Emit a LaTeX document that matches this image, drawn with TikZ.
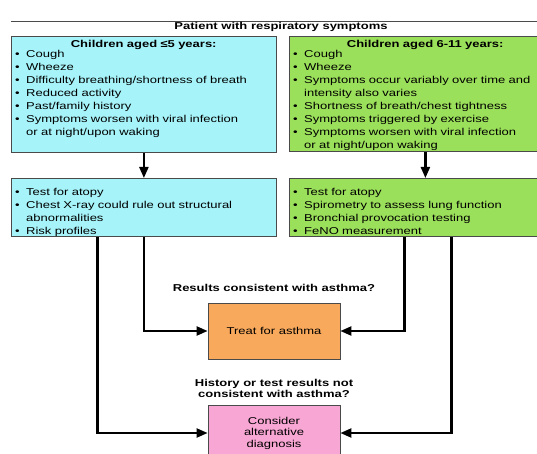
\documentclass[tikz,border=0pt]{standalone}
\usepackage{fontspec}
\setmainfont{Liberation Sans}[FakeStretch=1.3]
\usetikzlibrary{arrows.meta, positioning}
\definecolor{youngcyan}{HTML}{A6F4FA}
\definecolor{oldgreen}{HTML}{9BE05A}
\definecolor{treatorange}{HTML}{F9A95B}
\definecolor{altpink}{HTML}{F8A6D3}
\definecolor{framegray}{HTML}{4A4A4A}
\newcommand{\bitem}[1]{\par\hangindent=11pt\hangafter=1\noindent\makebox[11pt][l]{\textbullet}#1\par}
\newcommand{\boxhead}[1]{{\centering\bfseries #1\par}\vspace{-3pt}}

\begin{document}
\begin{tikzpicture}[
    x=1pt, y=-1pt,
    box/.style={draw=framegray, line width=0.8pt, inner sep=0pt, anchor=north west},
    listtext/.style={anchor=north west, inner sep=4pt, align=left, font=\fontsize{10}{13}\selectfont},
    process/.style={draw=framegray, line width=0.8pt, minimum width=132pt, minimum height=56pt, font=\fontsize{10}{11.5}\selectfont, align=center},
    question/.style={font=\bfseries\fontsize{10}{11}\selectfont, align=center, inner sep=0pt},
    flow/.style={line width=2.2pt, -{Triangle[length=11pt, width=9pt]}},
]
\useasboundingbox (0,0) rectangle (537,454);
\clip (0,0) rectangle (537,454);

% Title
\draw[framegray, line width=0.6pt] (11,21) -- (537,21);
\node[font=\bfseries\fontsize{10}{12}\selectfont] (title) at (281,27) {Patient with respiratory symptoms};

% Children up to 5 years (left)
\node[box, fill=youngcyan, minimum width=265pt, minimum height=116pt] (young) at (11,36) {};
\node[listtext, text width=257pt] (youngsym) at (young.north west) {%
    \boxhead{Children aged ≤5 years:}
    \bitem{Cough}
    \bitem{Wheeze}
    \bitem{Difficulty breathing/shortness of breath}
    \bitem{Reduced activity}
    \bitem{Past/family history}
    \bitem{Symptoms worsen with viral infection\newline or at night/upon waking}};

\node[box, fill=youngcyan, minimum width=265pt, minimum height=58pt] (youngtests) at (11,178) {};
\node[listtext, text width=257pt] (youngtxt) at (youngtests.north west) {%
    \bitem{Test for atopy}
    \bitem{Chest X-ray could rule out structural\newline abnormalities}
    \bitem{Risk profiles}};

% Children 6-11 years (right)
\node[box, fill=oldgreen, minimum width=272pt, minimum height=115pt] (old) at (289,36) {};
\node[listtext, text width=264pt] (oldsym) at (old.north west) {%
    \boxhead{Children aged 6-11 years:}
    \bitem{Cough}
    \bitem{Wheeze}
    \bitem{Symptoms occur variably over time and\newline intensity also varies}
    \bitem{Shortness of breath/chest tightness}
    \bitem{Symptoms triggered by exercise}
    \bitem{Symptoms worsen with viral infection\newline or at night/upon waking}};

\node[box, fill=oldgreen, minimum width=272pt, minimum height=58pt] (oldtests) at (289,178) {};
\node[listtext, text width=264pt] (oldtxt) at (oldtests.north west) {%
    \bitem{Test for atopy}
    \bitem{Spirometry to assess lung function}
    \bitem{Bronchial provocation testing}
    \bitem{FeNO measurement}};

% Outcomes
\node[process, fill=treatorange] (treat) at (274,331) {Treat for asthma};
\node[process, fill=altpink] (alt) at (274,433) {Consider\\alternative\\diagnosis};

\node[question, above=11pt of treat] (consistent) {Results consistent with asthma?};
\node[question, above=7pt of alt] (notconsistent) {History or test results not\\consistent with asthma?};

% Connectors
\draw[flow] (young) -- (youngtests);
\draw[flow] (old) -- (oldtests);
\draw[flow] (youngtests.south) |- (treat.west);
\draw[flow] ([xshift=-46.5pt]youngtests.south) |- (alt.west);
\draw[flow] ([xshift=-21pt]oldtests.south) |- (treat.east);
\draw[flow] ([xshift=26pt]oldtests.south) |- (alt.east);

\end{tikzpicture}
\end{document}
